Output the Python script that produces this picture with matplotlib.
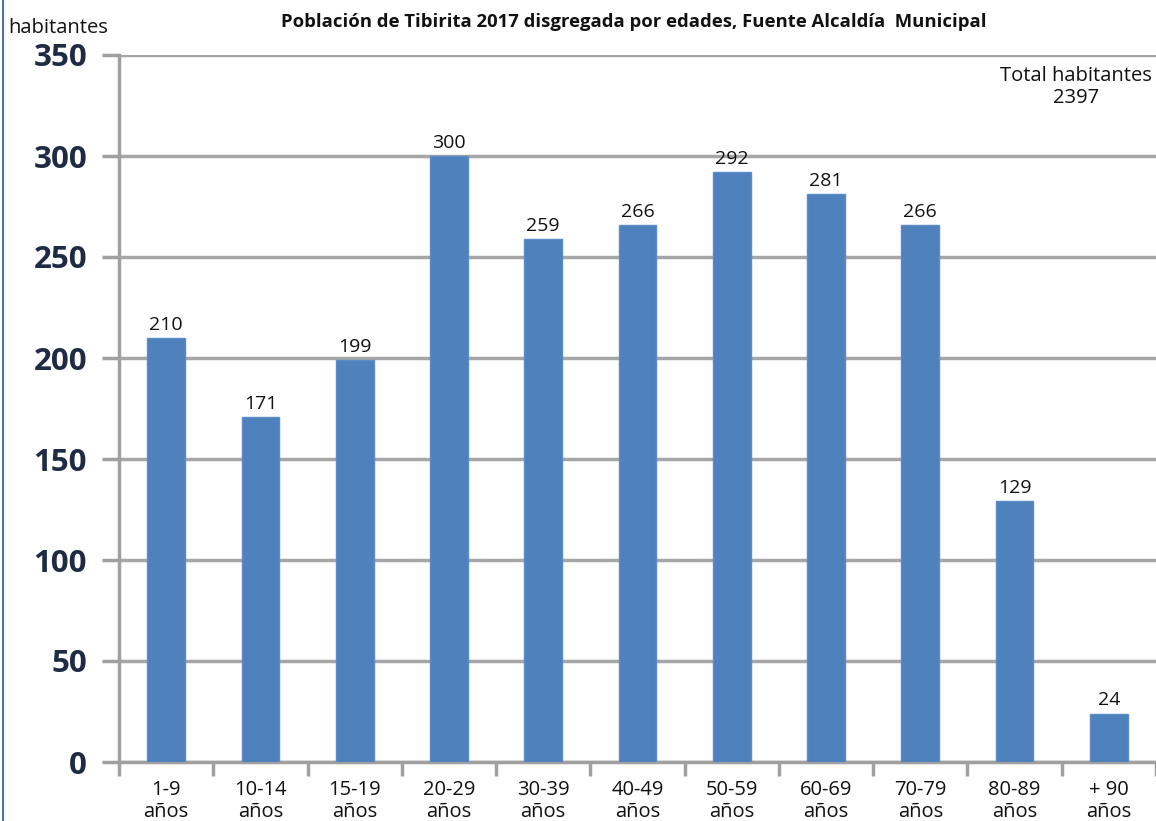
import matplotlib
matplotlib.use("Agg")
import matplotlib.pyplot as plt
from matplotlib.lines import Line2D

categories = ["1-9\naños", "10-14\naños", "15-19\naños", "20-29\naños", "30-39\naños",
              "40-49\naños", "50-59\naños", "60-69\naños", "70-79\naños", "80-89\naños", "+ 90\naños"]
values = [210, 171, 199, 300, 259, 266, 292, 281, 266, 129, 24]
yticks = [0, 50, 100, 150, 200, 250, 300, 350]
title = "Población de Tibirita 2017 disgregada por edades, Fuente Alcaldía  Municipal"
total_text = "Total habitantes\n2397"

W, H = 1156, 821
fig = plt.figure(figsize=(W / 100, H / 100), dpi=100)
left, right, top, bottom = 119, 1156, 55, 762
ax = fig.add_axes([left / W, 1 - bottom / H, (right - left) / W, (bottom - top) / H])

x = list(range(len(values)))
ax.bar(x, values, width=0.4, color="#4F81BD", edgecolor="#5B8CC8", linewidth=1, zorder=3)
ax.set_xlim(-0.5, len(values) - 0.5)
ax.set_ylim(0, 350)

ax.set_yticks(yticks)
ax.set_yticklabels([str(v) for v in yticks], fontsize=22.5, fontweight="bold",
                   color="#1F2A44", family="Open Sans")
ax.tick_params(axis="y", length=12, width=2.5, color="#A0A0A0", pad=11)
ax.grid(axis="y", color="#A6A6A6", linewidth=2.5, zorder=0)
ax.set_axisbelow(True)

ax.set_xticks([i + 0.5 for i in range(-1, len(values))], minor=False)
ax.set_xticklabels([""] * (len(values) + 1))
ax.tick_params(axis="x", length=10, width=2.5, color="#A0A0A0")
for i, c in enumerate(categories):
    ax.text(i, -9, c, ha="center", va="top", fontsize=14.5, family="Open Sans",
            color="#111111", linespacing=1.15, clip_on=False)

for s in ["top", "right"]:
    ax.spines[s].set_visible(False)
ax.spines["left"].set_color("#A0A0A0")
ax.spines["left"].set_linewidth(2.5)
ax.spines["bottom"].set_color("#A0A0A0")
ax.spines["bottom"].set_linewidth(2.5)

for i, v in enumerate(values):
    ax.text(i, v + 2, str(v), ha="center", va="bottom", fontsize=14,
            family="Open Sans", color="#111111")

fig.text(634 / W, 1 - 22 / H, title, ha="center", va="center", fontsize=13.3,
         fontweight="bold", family="Open Sans", color="#111111")
fig.text(8 / W, 1 - 28 / H, "habitantes", ha="left", va="center", fontsize=14.5,
         family="Open Sans", color="#111111")
fig.text(1076 / W, 1 - 87 / H, total_text, ha="center", va="center", fontsize=14.5,
         family="Open Sans", color="#111111", linespacing=1.15)

fig.add_artist(Line2D([2.5 / W, 2.5 / W], [0, 1], color="#4F6FA8", linewidth=1.5,
                      transform=fig.transFigure))

fig.savefig("out.png", dpi=100)
